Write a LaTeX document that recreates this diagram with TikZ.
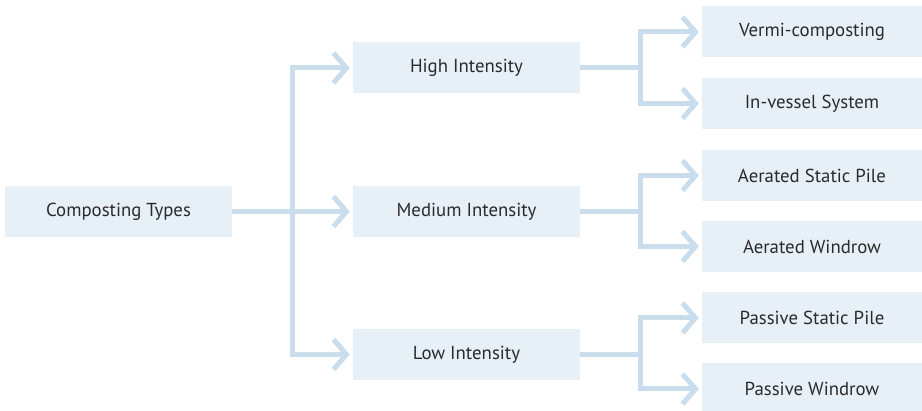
\documentclass[tikz,border=0pt]{standalone}
\usepackage{fontspec}
\setmainfont{PT Sans}
\usetikzlibrary{arrows.meta}
\definecolor{boxfill}{HTML}{E8F0F7}
\definecolor{linkblue}{HTML}{CADDEC}
\definecolor{txtgray}{HTML}{2B2B2B}
\begin{document}
\begin{tikzpicture}[x=1pt,y=-1pt,
  box/.style={fill=boxfill,text=txtgray,minimum height=51pt,inner sep=0pt,font=\fontsize{18.8}{21}\selectfont},
  mid/.style={box,minimum width=227pt},
  leaf/.style={box,minimum width=220pt},
  link/.style={draw=linkblue,line width=5pt},
  arr/.style={link,-{Straight Barb[length=13pt,width=30pt]},shorten >=3pt}]
\useasboundingbox (0,0) rectangle (922,411);
% root and intensity levels
\node[mid] (types) at (118.5,211.5) {Composting Types};
\node[mid] (high) at (466.5,68) {High Intensity};
\node[mid] (medium) at (466.5,211.5) {Medium Intensity};
\node[mid] (low) at (466.5,354.5) {Low Intensity};
% systems
\node[leaf] (vermi) at (812,32) {Vermi-composting};
\node[leaf] (vessel) at (812,103.5) {In-vessel System};
\node[leaf] (asp) at (812,175.5) {Aerated Static Pile};
\node[leaf] (awin) at (812,246.5) {Aerated Windrow};
\node[leaf] (psp) at (812,318) {Passive Static Pile};
\node[leaf] (pwin) at (812,389) {Passive Windrow};
% connectors
\foreach \t in {high,medium,low}
  \draw[arr] (types.east) -- ++(60,0) |- (\t.west);
\foreach \s/\t in {high/vermi,high/vessel,medium/asp,medium/awin,low/psp,low/pwin}
  \draw[arr] (\s.east) -- ++(60,0) |- (\t.west);
\end{tikzpicture}
\end{document}
